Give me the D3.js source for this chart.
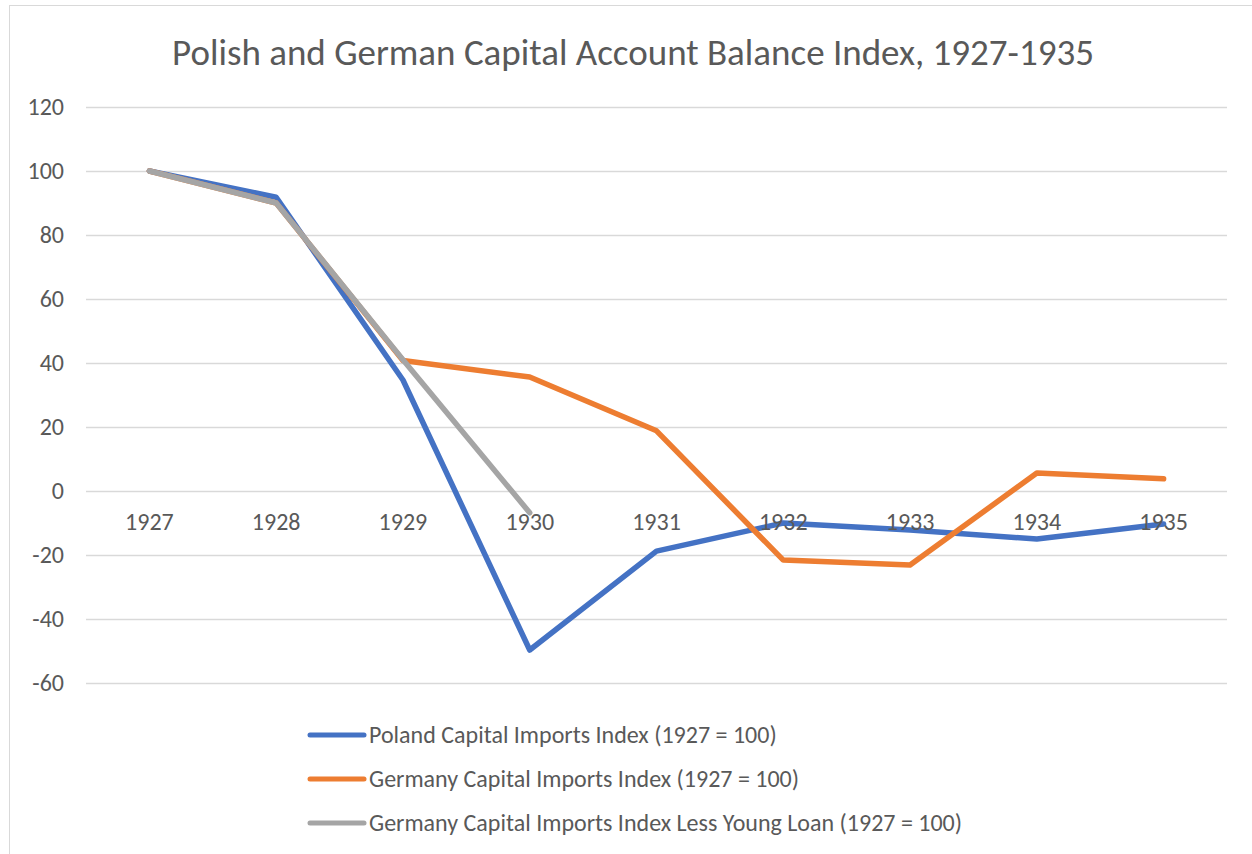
<!DOCTYPE html>
<html>
<head>
<meta charset="utf-8">
<script src="https://cdn.jsdelivr.net/npm/d3@7"></script>
<style>
  body { margin: 0; background: #fff; }
  text { font-family: Carlito, "Open Sans", "Noto Sans", sans-serif; fill: #595959; }
</style>
</head>
<body>
<div id="chart"></div>
<script>
var width = 1252;
var height = 854;

// data
var years = ["1927", "1928", "1929", "1930", "1931", "1932", "1933", "1934", "1935"];
var poland = [100, 91.8, 34.7, -49.7, -18.8, -10, -12.2, -15, -10.3];
var germany = [100, 90, 40.8, 35.6, 18.8, -21.6, -23.1, 5.6, 3.8];
var germanyLessYoung = [100, 90, 41, -6.8, null, null, null, null, null];
var yTicks = [120, 100, 80, 60, 40, 20, 0, -20, -40, -60];

var seriesNames = [
  "Poland Capital Imports Index (1927 = 100)",
  "Germany Capital Imports Index (1927 = 100)",
  "Germany Capital Imports Index Less Young Loan (1927 = 100)"
];
var colors = ["#4472c4", "#ed7d31", "#a5a5a5"];

var plot = {left: 86, right: 1227, top: 107, bottom: 683};

var svg = d3.select("#chart")
  .append("svg")
  .attr("width", width)
  .attr("height", height);

// chart frame
svg.append("rect")
  .attr("x", 9.5).attr("y", 5.5)
  .attr("width", 1300).attr("height", 900)
  .attr("fill", "none")
  .attr("stroke", "#d9d9d9")
  .attr("stroke-width", 1);

var x = d3.scaleBand()
  .domain(years)
  .range([plot.left, plot.right]);

var y = d3.scaleLinear()
  .domain([-60, 120])
  .range([plot.bottom, plot.top]);

// title
svg.append("text")
  .attr("x", 633)
  .attr("y", 65)
  .attr("text-anchor", "middle")
  .style("font-size", "37px")
  .text("Polish and German Capital Account Balance Index, 1927-1935");

// gridlines
svg.append("g")
  .selectAll("line")
  .data(yTicks)
  .enter().append("line")
    .attr("x1", plot.left).attr("x2", plot.right)
    .attr("y1", function(d) { return Math.round(y(d)) + 0.5; })
    .attr("y2", function(d) { return Math.round(y(d)) + 0.5; })
    .attr("stroke", "#d9d9d9")
    .attr("stroke-width", 1.5);

// y labels
var yAxis = svg.append("g")
  .attr("transform", "translate(" + (plot.left - 22) + ",0)")
  .call(d3.axisLeft(y).tickValues(yTicks).tickSize(0).tickPadding(0)
    .tickFormat(function(d) { return String(d); }));
yAxis.select(".domain").remove();
yAxis.selectAll("text")
  .style("font-size", "24px")
  .attr("fill", "#595959");

// lines
var line = d3.line()
  .defined(function(d) { return d != null; })
  .x(function(d, i) { return x(years[i]) + x.bandwidth() / 2; })
  .y(function(d) { return y(d); });

var allSeries = [poland, germany, germanyLessYoung];
allSeries.forEach(function(s, k) {
  svg.append("path")
    .datum(s)
    .attr("d", line)
    .attr("fill", "none")
    .attr("stroke", colors[k])
    .attr("stroke-width", 5.5)
    .attr("stroke-linejoin", "round")
    .attr("stroke-linecap", "round");
});

// x labels at zero line
var xAxis = svg.append("g")
  .attr("transform", "translate(0," + y(0) + ")")
  .call(d3.axisBottom(x).tickSize(0).tickPadding(22));
xAxis.select(".domain").remove();
xAxis.selectAll("text")
  .style("font-size", "24px")
  .attr("fill", "#595959");

// legend
var legend = svg.append("g")
  .selectAll("g")
  .data(seriesNames)
  .enter().append("g")
    .attr("transform", function(d, i) { return "translate(310," + (735 + i * 44) + ")"; });

legend.append("line")
  .attr("x1", 0).attr("x2", 54)
  .attr("stroke", function(d, i) { return colors[i]; })
  .attr("stroke-width", 5)
  .attr("stroke-linecap", "round");

legend.append("text")
  .attr("x", 59)
  .attr("dy", "0.35em")
  .style("font-size", "24px")
  .text(function(d) { return d; });
</script>
</body>
</html>
